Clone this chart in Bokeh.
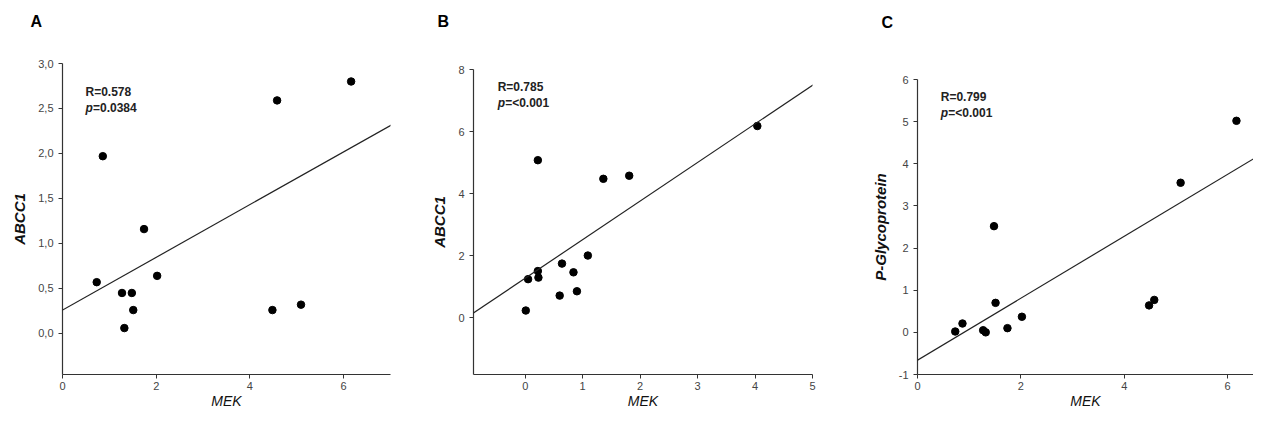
from bokeh.plotting import figure
from bokeh.layouts import row, column
from bokeh.models import Label, Slope, FixedTicker, Title
from bokeh.embed import file_html
from bokeh.resources import INLINE

# ---------------- data ----------------
# Panel A: ABCC1 vs MEK
a_mek = [0.86, 0.73, 1.27, 1.48, 1.51, 1.32, 1.74, 2.02, 4.48, 5.09, 4.58, 6.16]
a_abcc1 = [1.97, 0.57, 0.45, 0.45, 0.26, 0.06, 1.16, 0.64, 0.26, 0.32, 2.59, 2.80]
a_fit = [0.26, 0.293]          # intercept, slope of the drawn regression line
a_xticks = [0, 2, 4, 6]
a_yticks = [0.0, 0.5, 1.0, 1.5, 2.0, 2.5, 3.0]
a_ylabels = ["0,0", "0,5", "1,0", "1,5", "2,0", "2,5", "3,0"]
a_stats = ["R=0.578", "=0.0384"]

# Panel B: ABCC1 vs MEK
b_mek = [0.01, 0.05, 0.22, 0.23, 0.22, 0.60, 0.64, 0.84, 0.90, 1.09, 1.36, 1.81, 4.04]
b_abcc1 = [0.24, 1.25, 1.51, 1.30, 5.08, 0.72, 1.75, 1.47, 0.86, 2.01, 4.48, 4.58, 6.18]
b_fit = [1.28, 1.242]
b_xticks = [0, 1, 2, 3, 4, 5]
b_yticks = [0, 2, 4, 6, 8]
b_ylabels = ["0", "2", "4", "6", "8"]
b_stats = ["R=0.785", "=<0.001"]

# Panel C: P-Glycoprotein vs MEK
c_mek = [0.73, 0.87, 1.27, 1.32, 1.48, 1.51, 1.74, 2.02, 4.48, 4.58, 5.09, 6.17]
c_pgp = [0.02, 0.21, 0.05, 0.00, 2.52, 0.70, 0.10, 0.37, 0.64, 0.77, 3.55, 5.02]
c_fit = [-0.66, 0.735]
c_xticks = [0, 2, 4, 6]
c_yticks = [-1, 0, 1, 2, 3, 4, 5, 6]
c_ylabels = ["-1", "0", "1", "2", "3", "4", "5", "6"]
c_stats = ["R=0.799", "=<0.001"]

FONT = "Liberation Sans"
AXIS_COLOR = "#333333"
TICK_COLOR = "#444444"


def panel(x, y, fit, xr, yr, xticks, yticks, ylabels, ylabel, stats, letter,
          letter_off, stats_xy, width, height, bl, br, bt, bb):
    p = figure(width=width, height=height, x_range=xr, y_range=yr,
               output_backend="svg", toolbar_location=None,
               min_border_left=bl, min_border_right=br,
               min_border_top=bt, min_border_bottom=bb)
    p.outline_line_color = None
    p.background_fill_color = "white"
    p.border_fill_color = "white"
    p.xgrid.visible = False
    p.ygrid.visible = False

    # panel letter (outermost title) lifted by a blank spacer title below it
    p.title.text = letter
    p.title.align = "left"
    p.title.offset = letter_off[0]
    p.title.standoff = 0
    p.title.text_font = FONT
    p.title.text_font_size = "16px"
    p.title.text_font_style = "bold"
    p.title.text_color = "black"
    p.add_layout(Title(text=" ", text_font=FONT, text_font_size="14px",
                       standoff=letter_off[1]), "above")

    for ax in (p.xaxis[0], p.yaxis[0]):
        ax.axis_line_color = AXIS_COLOR
        ax.axis_line_width = 1.2
        ax.major_tick_line_color = AXIS_COLOR
        ax.major_tick_out = 4
        ax.major_tick_in = 0
        ax.minor_tick_line_color = None
        ax.major_label_text_font = FONT
        ax.major_label_text_font_size = "11px"
        ax.major_label_text_color = TICK_COLOR
        ax.axis_label_text_font = FONT
        ax.axis_label_text_color = "#111111"

    p.xaxis.ticker = FixedTicker(ticks=xticks)
    p.yaxis.ticker = FixedTicker(ticks=yticks)
    p.yaxis.major_label_overrides = {t: l for t, l in zip(yticks, ylabels)}
    p.xaxis.major_label_standoff = 3
    p.yaxis.major_label_standoff = 5

    p.xaxis.axis_label = "MEK"
    p.xaxis.axis_label_text_font_style = "italic"
    p.xaxis.axis_label_text_font_size = "14px"
    p.xaxis.axis_label_standoff = 0

    p.yaxis.axis_label = ylabel
    p.yaxis.axis_label_text_font_style = "bold italic"
    p.yaxis.axis_label_text_font_size = "15px"
    p.yaxis.axis_label_standoff = 7

    p.add_layout(Slope(gradient=fit[1], y_intercept=fit[0],
                       line_color="#222222", line_width=1.2))
    p.scatter(x, y, size=7.5, fill_color="black", line_color="black")

    p.add_layout(Label(x=stats_xy[0], y=stats_xy[1], text=stats[0],
                       text_font=FONT, text_font_style="bold",
                       text_font_size="12px", text_baseline="middle",
                       text_color="#222222"))
    p.add_layout(Label(x=stats_xy[0], y=stats_xy[2], text="p",
                       text_font=FONT, text_font_style="bold italic",
                       text_font_size="12px", text_baseline="middle",
                       text_color="#222222"))
    p.add_layout(Label(x=stats_xy[0], y=stats_xy[2], x_offset=7.5,
                       text=stats[1],
                       text_font=FONT, text_font_style="bold",
                       text_font_size="12px", text_baseline="middle",
                       text_color="#222222"))
    return p


pa = panel(a_mek, a_abcc1, a_fit, (0, 7), (-0.456, 3.0), a_xticks, a_yticks,
           a_ylabels, "ABCC1", a_stats, "A", (-32, 16), (0.49, 2.68, 2.51),
           width=428, height=411, bl=62, br=38, bt=63, bb=33)

pb = panel(b_mek, b_abcc1, b_fit, (-0.9, 5), (-1.82, 8), b_xticks, b_yticks,
           b_ylabels, "ABCC1", b_stats, "B", (-36, 22), (-0.48, 7.44, 6.93),
           width=440, height=411, bl=40, br=56, bt=69, bb=33)

pc = panel(c_mek, c_pgp, c_fit, (0, 6.5), (-1, 6), c_xticks, c_yticks,
           c_ylabels, "P-Glycoprotein", c_stats, "C", (-36, 31), (0.45, 5.59, 5.21),
           width=385, height=411, bl=49, br=0, bt=79, bb=32)

layout = row(column(pa), column(pb), column(pc), spacing=0)
open("out.html", "w").write(file_html(layout, INLINE))
